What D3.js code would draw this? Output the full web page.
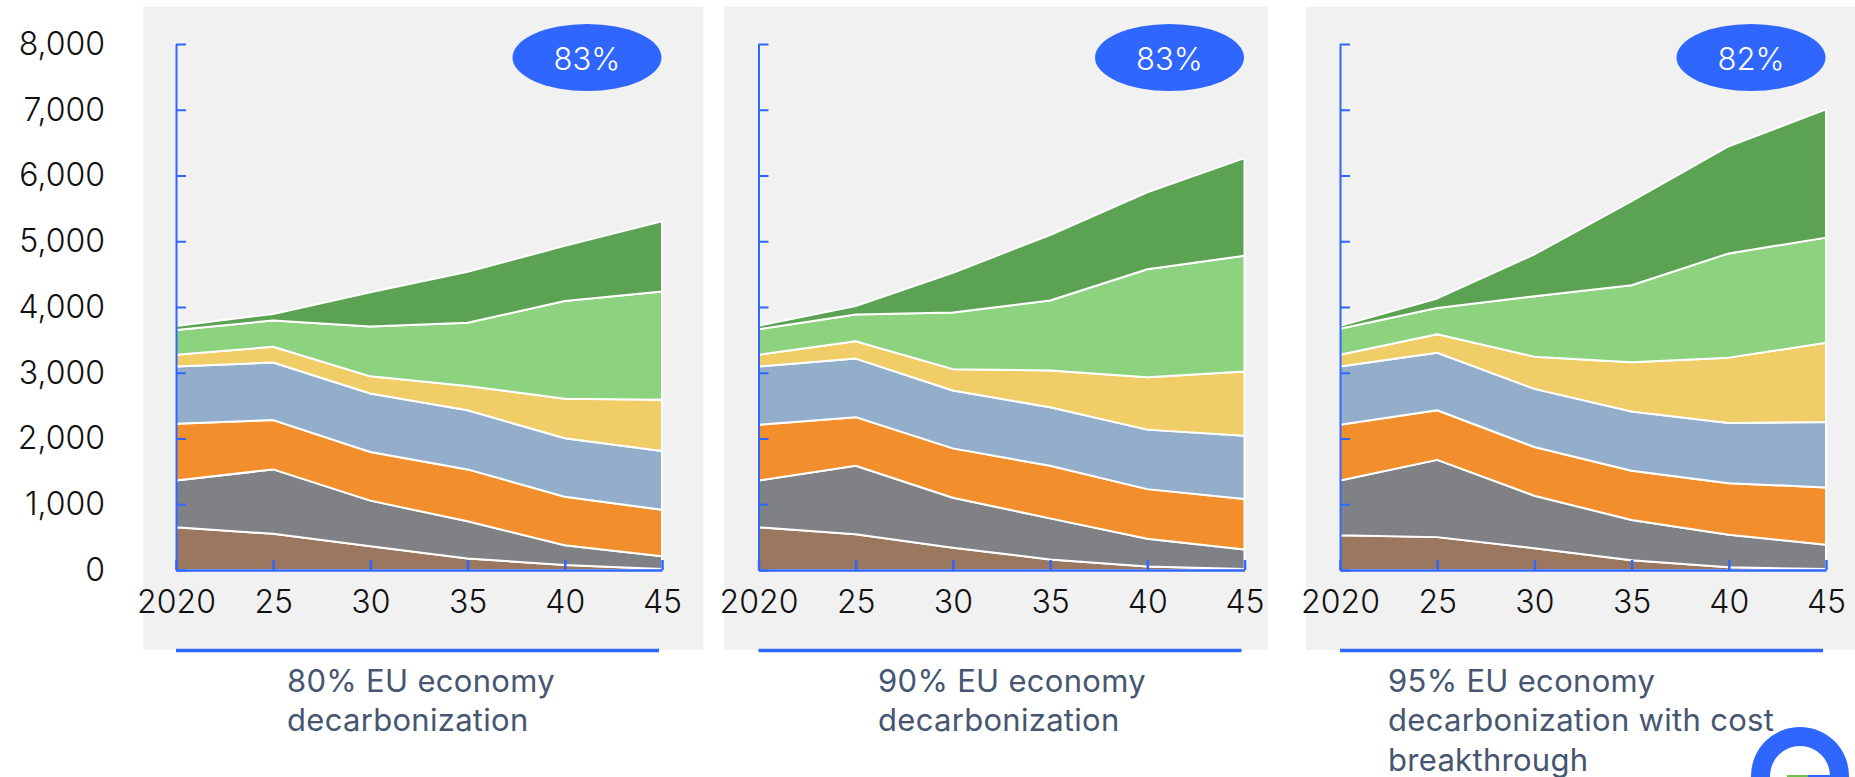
<!DOCTYPE html>
<html>
<head>
<meta charset="utf-8">
<script src="https://cdn.jsdelivr.net/npm/d3@7"></script>
<style>
  html, body { margin: 0; padding: 0; background: #ffffff; }
  svg { display: block; }
  text { font-family: Inter, "Noto Sans", sans-serif; }
</style>
</head>
<body>
<svg id="chart" width="1855" height="777"></svg>
<script>
// ---------- DATA ----------
const years = [2020, 2025, 2030, 2035, 2040, 2045];
const xTickLabels = ["2020", "25", "30", "35", "40", "45"];
const yTicks = [0, 1000, 2000, 3000, 4000, 5000, 6000, 7000, 8000];
const layerKeys = ["brown", "gray", "orange", "blue", "yellow", "lightGreen", "darkGreen"];
const layerColors = ["#9c7760", "#808184", "#f28e2c", "#93aecb", "#f0cd66", "#8cd27f", "#5ba352"];

const scenario80 = {
  brown:      [650, 550, 360, 175, 75, 15],
  gray:       [710, 980, 695, 565, 300, 195],
  orange:     [865, 750, 740, 790, 740, 705],
  blue:       [870, 875, 890, 900, 890, 895],
  yellow:     [180, 240, 260, 370, 600, 780],
  lightGreen: [375, 400, 760, 960, 1485, 1645],
  darkGreen:  [60, 100, 520, 775, 840, 1070]
};
const scenario90 = {
  brown:      [650, 545, 340, 160, 55, 15],
  gray:       [710, 1040, 760, 625, 420, 295],
  orange:     [850, 740, 750, 800, 755, 770],
  blue:       [885, 890, 880, 890, 905, 960],
  yellow:     [180, 265, 325, 560, 795, 980],
  lightGreen: [385, 405, 860, 1065, 1645, 1760],
  darkGreen:  [55, 130, 605, 995, 1170, 1485]
};
const scenario95 = {
  brown:      [530, 500, 330, 150, 40, 15],
  gray:       [830, 1175, 800, 610, 495, 370],
  orange:     [850, 755, 740, 750, 785, 870],
  blue:       [885, 875, 885, 900, 915, 995],
  yellow:     [180, 280, 490, 750, 995, 1205],
  lightGreen: [395, 400, 920, 1170, 1585, 1600],
  darkGreen:  [45, 145, 635, 1280, 1630, 1950]
};
const badgeLabels = ["83%", "83%", "82%"];
const subtitles = [
  ["80% EU economy", "decarbonization"],
  ["90% EU economy", "decarbonization"],
  ["95% EU economy", "decarbonization with cost", "breakthrough"]
];

// ---------- LAYOUT ----------
const BLUE = "#2f66ff";
const panels = [
  { data: scenario80, axisX: 176,   bgX0: 143.3, bgX1: 703.3, textX: 287 },
  { data: scenario90, axisX: 758.5, bgX0: 724.3, bgX1: 1267.7, textX: 878 },
  { data: scenario95, axisX: 1340,  bgX0: 1306,  bgX1: 1855,   textX: 1388 }
];
const plotW = 486;
const yScale = d3.scaleLinear().domain([0, 8000]).range([570, 44]);

const svg = d3.select("#chart");

// y labels (first panel only)
svg.append("g")
  .attr("transform", "translate(105,0)")
  .call(d3.axisLeft(yScale).tickValues(yTicks).tickSize(0).tickPadding(0)
        .tickFormat(d3.format(",")))
  .call(g => g.select(".domain").remove())
  .call(g => g.selectAll("text")
     .attr("font-family", "Inter, sans-serif")
     .attr("font-size", 32).attr("font-weight", 300)
     .attr("fill", "#111"));

panels.forEach((p, i) => {
  const g = svg.append("g");
  // background
  g.append("rect").attr("x", p.bgX0).attr("y", 6.7)
    .attr("width", p.bgX1 - p.bgX0).attr("height", 650 - 6.7)
    .attr("fill", "#f1f1f1");

  const x = d3.scaleLinear().domain([2020, 2045]).range([p.axisX, p.axisX + plotW]);

  const rows = years.map((yr, k) => {
    const r = { year: yr };
    layerKeys.forEach(key => r[key] = p.data[key][k]);
    return r;
  });
  const stacked = d3.stack().keys(layerKeys)(rows);
  const area = d3.area()
    .x(d => x(d.data.year))
    .y0(d => yScale(d[0]))
    .y1(d => yScale(d[1]));

  g.append("g").selectAll("path").data(stacked).join("path")
    .attr("d", area)
    .attr("fill", (d, j) => layerColors[j])
    .attr("stroke", "#ffffff")
    .attr("stroke-width", 2)
    .attr("stroke-linejoin", "round");

  // vertical axis with inward ticks
  g.append("g")
    .attr("transform", `translate(${p.axisX},0)`)
    .call(d3.axisRight(yScale).tickValues(yTicks).tickSize(10).tickSizeOuter(0).tickFormat(""))
    .call(a => a.selectAll("path,line").attr("stroke", BLUE).attr("stroke-width", 2));

  // horizontal axis with upward ticks
  g.append("g")
    .attr("transform", `translate(0,570)`)
    .call(d3.axisTop(x).tickValues(years).tickSize(10).tickSizeOuter(0).tickFormat(""))
    .call(a => a.selectAll("path,line").attr("stroke", BLUE).attr("stroke-width", 2.5));

  // x tick labels
  g.append("g")
    .attr("transform", `translate(0,570)`)
    .call(d3.axisBottom(x).tickValues(years).tickSize(0).tickPadding(20)
          .tickFormat((d, k) => xTickLabels[k]))
    .call(a => a.select(".domain").remove())
    .call(a => a.selectAll("text")
      .attr("font-family", "Inter, sans-serif")
      .attr("font-size", 32).attr("font-weight", 300).attr("fill", "#111"));

  // bottom blue bar
  g.append("line")
    .attr("x1", p.axisX).attr("x2", p.axisX + 483)
    .attr("y1", 650.5).attr("y2", 650.5)
    .attr("stroke", BLUE).attr("stroke-width", 3.5);

  // badge
  const bx = p.axisX + 411;
  g.append("ellipse").attr("cx", bx).attr("cy", 57.5)
    .attr("rx", 74.5).attr("ry", 33.5).attr("fill", BLUE);
  g.append("text").attr("x", bx).attr("y", 70)
    .attr("text-anchor", "middle")
    .attr("font-size", 31).attr("font-weight", 300)
    .attr("fill", "#ffffff").text(badgeLabels[i]);

  // subtitle
  const t = g.append("text").attr("fill", "#465670")
    .attr("font-size", 31).attr("font-weight", 400)
    .attr("letter-spacing", 0.3);
  subtitles[i].forEach((line, k) => {
    t.append("tspan").attr("x", p.textX).attr("y", 692 + k * 39.3).text(line);
  });
});

// partial logo at bottom right
const logo = svg.append("g").attr("transform", "translate(1800,776)");
logo.append("path")
  .attr("d", d3.arc().innerRadius(30).outerRadius(49).startAngle(0).endAngle(2 * Math.PI)())
  .attr("fill", BLUE);
logo.append("rect").attr("x", -13).attr("y", -1).attr("width", 21).attr("height", 4).attr("fill", "#6cc24a");
logo.append("rect").attr("x", 8).attr("y", -1).attr("width", 22).attr("height", 4).attr("fill", BLUE);
</script>
</body>
</html>
